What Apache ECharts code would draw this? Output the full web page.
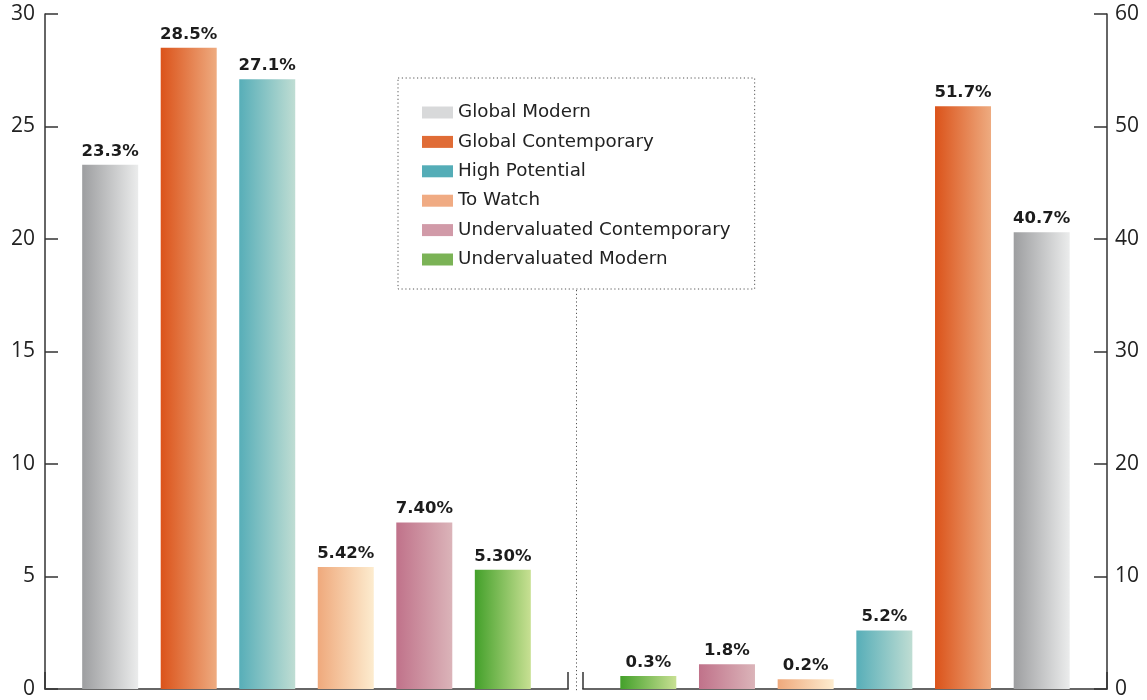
<!DOCTYPE html>
<html>
<head>
<meta charset="utf-8">
<script src="https://cdn.jsdelivr.net/npm/echarts@6/dist/echarts.min.js"></script>
<style>
html,body{margin:0;padding:0;background:#fff;}
#chart{width:1147px;height:700px;}
</style>
</head>
<body>
<div id="chart"></div>
<script>
// ---- data ----
var categories = ['Global Modern', 'Global Contemporary', 'High Potential', 'To Watch', 'Undervaluated Contemporary', 'Undervaluated Modern'];
var legendColors = ['#d8d9da', '#e06c36', '#54adb7', '#f0ab83', '#d19aa8', '#7bb356'];
var gradStart = ['#9d9ea0', '#db531a', '#57aeb8', '#efa97c', '#c0728a', '#43a02a'];
var gradEnd   = ['#ebecec', '#eeab80', '#bfddd3', '#fdeccf', '#dbb4b9', '#c8e093'];

// left panel (axis 0-30), in category order
var leftValues = [23.3, 28.5, 27.1, 5.42, 7.40, 5.30];
var leftLabels = ['23.3%', '28.5%', '27.1%', '5.42%', '7.40%', '5.30%'];

// right panel (axis 0-60), its own bar order
var rightOrder  = ['Undervaluated Modern', 'Undervaluated Contemporary', 'To Watch', 'High Potential', 'Global Contemporary', 'Global Modern'];
var rightValues = [1.15, 2.2, 0.86, 5.2, 51.8, 40.6];
var rightLabels = ['0.3%', '1.8%', '0.2%', '5.2%', '51.7%', '40.7%'];

var leftTicks = [0, 5, 10, 15, 20, 25, 30];
var rightTicks = [0, 10, 20, 30, 40, 50, 60];

// ---- chart ----
var chart = echarts.init(document.getElementById('chart'));

function grad(i) {
  return new echarts.graphic.LinearGradient(0, 0, 1, 0, [
    {offset: 0, color: gradStart[i]},
    {offset: 1, color: gradEnd[i]}
  ]);
}

var labelStyle = {
  show: true,
  position: 'top',
  distance: 5,
  fontFamily: 'DejaVu Sans',
  fontWeight: 'bold',
  fontSize: 16.5,
  color: '#1c1c1c'
};

var series = [];
categories.forEach(function (c, i) {
  series.push({
    type: 'bar', name: c, xAxisIndex: 0, yAxisIndex: 0,
    barWidth: 56, barGap: '-100%',
    itemStyle: {color: grad(i)},
    label: Object.assign({}, labelStyle, {formatter: leftLabels[i]}),
    data: [[i, leftValues[i]]]
  });
});
rightOrder.forEach(function (c, j) {
  var i = categories.indexOf(c);
  series.push({
    type: 'bar', name: c, xAxisIndex: 1, yAxisIndex: 1,
    barWidth: 56, barGap: '-100%',
    itemStyle: {color: grad(i)},
    label: Object.assign({}, labelStyle, {formatter: rightLabels[j]}),
    data: [[j, rightValues[j]]]
  });
});

function xAxisDef(gi) {
  return {
    type: 'value', gridIndex: gi, min: -0.83, max: 5.83, interval: 6.66,
    axisLabel: {show: false},
    splitLine: {show: false},
    axisLine: {show: true, onZero: false, lineStyle: {color: '#666', width: 2}},
    axisTick: {show: true, inside: true, length: 17, lineStyle: {color: '#333', width: 1.5}}
  };
}

function yAxisDef(gi, pos, max, interval) {
  return {
    type: 'value', gridIndex: gi, position: pos, min: 0, max: max, interval: interval,
    splitLine: {show: false},
    axisLine: {show: true, onZero: false, lineStyle: {color: '#333', width: 1.5}},
    axisTick: {show: true, inside: true, length: 13, lineStyle: {color: '#333', width: 1.5}},
    axisLabel: {fontFamily: 'Open Sans', fontSize: 21, color: '#222', margin: pos === 'left' ? 10 : 8}
  };
}

chart.setOption({
  animation: false,
  backgroundColor: '#fff',
  grid: [
    {left: 45, right: 579, top: 14, bottom: 11},
    {left: 583, right: 40, top: 14, bottom: 11}
  ],
  xAxis: [xAxisDef(0), xAxisDef(1)],
  yAxis: [yAxisDef(0, 'left', leftTicks[leftTicks.length - 1], leftTicks[1] - leftTicks[0]),
          yAxisDef(1, 'right', rightTicks[rightTicks.length - 1], rightTicks[1] - rightTicks[0])],
  legend: {
    orient: 'vertical',
    left: 398, top: 78,
    padding: [24.5, 24, 19.5, 24],
    itemWidth: 31, itemHeight: 12,
    itemGap: 9.4,
    selectedMode: false,
    borderColor: '#555', borderWidth: 1, borderType: [1.2, 2.6],
    textStyle: {fontFamily: 'DejaVu Sans', fontSize: 18.3, color: '#222', lineHeight: 20},
    data: categories.map(function (c, i) {
      return {name: c, icon: 'rect', itemStyle: {color: legendColors[i]}};
    })
  },
  graphic: [{
    type: 'line', silent: true,
    shape: {x1: 576.5, y1: 290, x2: 576.5, y2: 691},
    style: {stroke: '#555', lineWidth: 1, lineDash: [1.2, 2.6]}
  }],
  series: series
});
</script>
</body>
</html>
